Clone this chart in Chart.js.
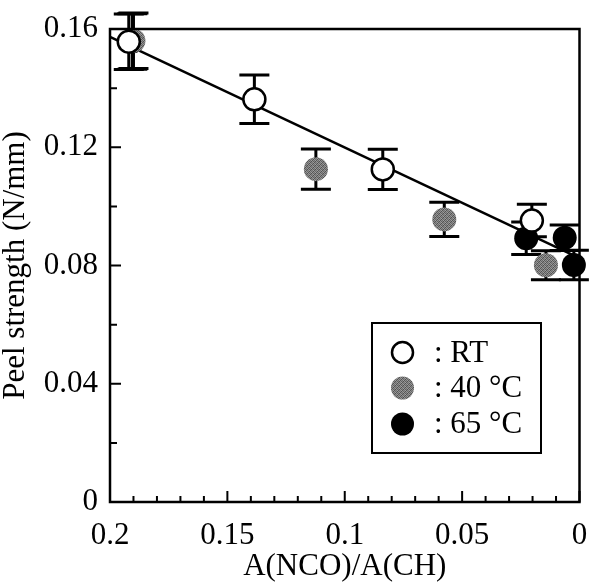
<!DOCTYPE html>
<html><head><meta charset="utf-8">
<script src="https://cdn.jsdelivr.net/npm/chart.js@4/dist/chart.umd.min.js"></script>
<style>html,body{margin:0;padding:0;background:#fff;}canvas{display:block;}</style>
</head><body>
<canvas id="c" width="593" height="582"></canvas>
<script>
// ---- data ----
const seriesNames = ['RT', '40 °C', '65 °C'];
const rtX   = [0.192, 0.1385, 0.0838, 0.0203];
const rtY   = [0.1557, 0.1362, 0.1125, 0.0952];
const rtErr = [0.0094, 0.0082, 0.0068, 0.0055];
const c40X   = [0.1900, 0.1123, 0.0576, 0.0143];
const c40Y   = [0.1560, 0.1126, 0.0956, 0.0801];
const c40Err = [0.0094, 0.0068, 0.0058, 0.0049];
const c65X   = [0.1905, 0.0227, 0.0063, 0.0024];
const c65Y   = [0.1558, 0.0892, 0.0894, 0.0802];
const c65Err = [0.0094, 0.0055, 0.0043, 0.0050];
const fitX = [0.2, 0];
const fitY = [0.1573, 0.0825];
const xTickValues = [0.2, 0.15, 0.1, 0.05, 0];
const xTickLabels = ['0.2', '0.15', '0.1', '0.05', '0'];
const xMinorTicks = [0.19,0.18,0.17,0.16,0.14,0.13,0.12,0.11,0.09,0.08,0.07,0.06,0.04,0.03,0.02,0.01];
const yTickValues = [0, 0.04, 0.08, 0.12, 0.16];
const yTickLabels = ['0', '0.04', '0.08', '0.12', '0.16'];
const yMinorTicks = [0.02, 0.06, 0.10, 0.14];

const FONT = 'Liberation Serif';
const FS = 31;
const canvas = document.getElementById('c');
const ctx0 = canvas.getContext('2d');

function greyPattern() {
  const t = document.createElement('canvas'); t.width = 4; t.height = 4;
  const g = t.getContext('2d');
  const shades = [[85,145,105,160],[150,95,135,80],[115,160,85,135],[140,80,150,105]];
  for (let r = 0; r < 4; r++) for (let c = 0; c < 4; c++) {
    const v = shades[r][c]; g.fillStyle = `rgb(${v},${v},${v})`; g.fillRect(c, r, 1, 1);
  }
  return ctx0.createPattern(t, 'repeat');
}
const GREY = greyPattern();

const pts = (xs, ys) => xs.map((x, i) => ({x: x, y: ys[i]}));
const series = [
  {x: rtX, y: rtY, err: rtErr, bg: '#ffffff', border: '#000000', bw: 2.5, r: 11},
  {x: c40X, y: c40Y, err: c40Err, bg: GREY, border: 'rgba(0,0,0,0)', bw: 0, r: 12},
  {x: c65X, y: c65Y, err: c65Err, bg: '#000000', border: '#000000', bw: 0, r: 12}
];

const errorBars = {
  id: 'errorBars',
  beforeDatasetsDraw(chart) {
    const {ctx, scales: {x, y}} = chart;
    ctx.save();
    ctx.strokeStyle = '#000'; ctx.lineWidth = 3; ctx.lineCap = 'butt';
    series.forEach(s => {
      s.x.forEach((xv, i) => {
        const px = x.getPixelForValue(xv);
        const top = y.getPixelForValue(s.y[i] + s.err[i]);
        const bot = y.getPixelForValue(s.y[i] - s.err[i]);
        ctx.beginPath();
        ctx.moveTo(px, top); ctx.lineTo(px, bot);
        ctx.moveTo(px - 15, top); ctx.lineTo(px + 15, top);
        ctx.moveTo(px - 15, bot); ctx.lineTo(px + 15, bot);
        ctx.stroke();
      });
    });
    ctx.restore();
  }
};

const frame = {
  id: 'frame',
  afterDatasetsDraw(chart) {
    const {ctx, chartArea: a, scales: {x, y}} = chart;
    ctx.save();
    ctx.strokeStyle = '#000'; ctx.lineWidth = 2.5;
    ctx.strokeRect(a.left, a.top, a.right - a.left, a.bottom - a.top);
    ctx.lineWidth = 2;
    ctx.beginPath();
    xTickValues.forEach(v => { const p = x.getPixelForValue(v); ctx.moveTo(p, a.bottom); ctx.lineTo(p, a.bottom - 11); });
    xMinorTicks.forEach(v => { const p = x.getPixelForValue(v); ctx.moveTo(p, a.bottom); ctx.lineTo(p, a.bottom - 6); });
    yTickValues.forEach(v => { const p = y.getPixelForValue(v); ctx.moveTo(a.left, p); ctx.lineTo(a.left + 11, p); });
    yMinorTicks.forEach(v => { const p = y.getPixelForValue(v); ctx.moveTo(a.left, p); ctx.lineTo(a.left + 7, p); });
    ctx.stroke();
    ctx.restore();
  }
};

const legendBox = {
  id: 'legendBox',
  afterDraw(chart) {
    const ctx = chart.ctx;
    ctx.save();
    ctx.strokeStyle = '#000'; ctx.lineWidth = 2;
    ctx.strokeRect(372, 323, 169, 130);
    const rows = [352.5, 388, 424];
    ctx.font = `${FS}px "${FONT}"`;
    ctx.textBaseline = 'middle'; ctx.textAlign = 'left';
    series.forEach((s, i) => {
      ctx.beginPath();
      ctx.arc(402.5, rows[i], s === series[0] ? 10.5 : 11.5, 0, Math.PI * 2);
      ctx.fillStyle = s.bg; ctx.fill();
      if (s.bw) { ctx.lineWidth = s.bw; ctx.strokeStyle = s.border; ctx.stroke(); }
      ctx.fillStyle = '#000';
      ctx.fillText(': ' + seriesNames[i], 434, rows[i] + 1);
    });
    ctx.restore();
  }
};

const tickFont = {family: FONT, size: FS};
new Chart(canvas, {
  type: 'scatter',
  data: {
    datasets: [
      ...series.map((s, i) => ({
        label: seriesNames[i], data: pts(s.x, s.y),
        pointRadius: s.r, pointBackgroundColor: s.bg, pointBorderColor: s.border,
        pointBorderWidth: s.bw, clip: false, order: i
      })),
      {type: 'line', label: 'fit', data: pts(fitX, fitY), showLine: true, pointRadius: 0,
       borderColor: '#000', borderWidth: 2.5, fill: false, order: 10, clip: false}
    ]
  },
  options: {
    responsive: false, animation: false, devicePixelRatio: 1, events: [],
    layout: {padding: {top: 29, right: 9, left: 0, bottom: 0}},
    plugins: {legend: {display: false}, tooltip: {enabled: false}},
    scales: {
      x: {
        type: 'linear', reverse: true, min: 0, max: 0.2,
        afterBuildTicks: s => { s.ticks = xTickValues.map(v => ({value: v})); },
        afterFit: s => { s.height = 80; s.paddingLeft = 0; s.paddingRight = 0; },
        grid: {display: false}, border: {display: false},
        ticks: {autoSkip: false, maxRotation: 0, padding: 7, font: tickFont, color: '#000',
                callback: (v, i) => xTickLabels[i]},
        title: {display: true, text: 'A(NCO)/A(CH)', color: '#000', padding: 0,
                font: {family: FONT, size: FS, lineHeight: 1}}
      },
      y: {
        type: 'linear', min: 0, max: 0.16,
        afterBuildTicks: s => { s.ticks = yTickValues.map(v => ({value: v})); },
        afterFit: s => { s.width = 110; s.paddingTop = 0; s.paddingBottom = 0; },
        grid: {display: false}, border: {display: false},
        ticks: {autoSkip: false, padding: 4, font: tickFont, color: '#000',
                callback: (v, i) => yTickLabels[i]},
        title: {display: true, text: 'Peel strength (N/mm)', color: '#000', padding: {top: 0, bottom: 0},
                font: {family: FONT, size: FS, lineHeight: 1}}
      }
    }
  },
  plugins: [errorBars, frame, legendBox]
});
</script>
</body></html>
